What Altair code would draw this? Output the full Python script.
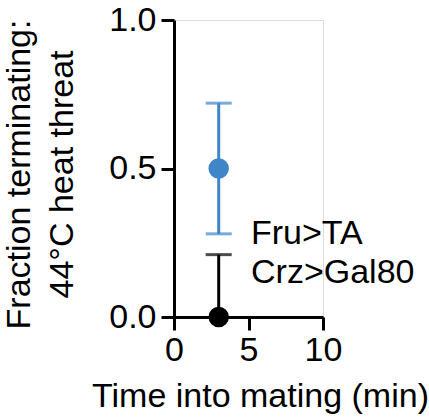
import altair as alt
import pandas as pd

groups = ["Fru>TA", "Crz>Gal80"]
time_min = [3, 3]
fraction = [0.5, 0.0]
ci_low = [0.28, 0.0]
ci_high = [0.72, 0.21]
colors = ["#3f86c8", "#000000"]

df = pd.DataFrame({"group": groups, "time": time_min, "frac": fraction,
                   "lo": ci_low, "hi": ci_high})

FONT = "Liberation Sans"
FS = 34

xscale = alt.Scale(domain=[0, 10], nice=False, zero=False)
yscale = alt.Scale(domain=[0, 1], nice=False)
cscale = alt.Scale(domain=groups, range=colors)

xax = alt.Axis(values=[0, 5, 10], title="Time into mating (min)", grid=False,
               labelFlush=False, labelOverlap=False,
               tickSize=13, tickWidth=3, domainWidth=3, domainColor="black",
               tickColor="black", labelFontSize=FS, labelFont=FONT, labelColor="black",
               labelPadding=3, titleFont=FONT, titleFontSize=FS, titleFontWeight="normal",
               titleColor="black", titleX=86, titleY=89, titleBaseline="alphabetic",
               titleAlign="center")
yax = alt.Axis(values=[0, 0.5, 1.0], format=".1f",
               title=["Fraction terminating:", "44°C heat threat"], grid=False,
               labelFlush=False, labelOverlap=False,
               tickSize=13, tickWidth=3, domainWidth=3, domainColor="black",
               tickColor="black", labelFontSize=FS, labelFont=FONT, labelColor="black",
               labelPadding=5, titleFont=FONT, titleFontSize=FS, titleFontWeight="normal",
               titleColor="black", titleLineHeight=43, titleX=-138, titleY=154,
               titleAngle=270, titleAlign="center", titleBaseline="bottom")

leg = alt.Legend(title=None, orient="none", legendX=43, legendY=197,
                 labelFont=FONT, labelFontSize=FS, labelColor="black", labelLimit=0,
                 symbolOpacity=0, symbolSize=1, symbolStrokeWidth=0, symbolType="circle",
                 labelOffset=0, rowPadding=5, padding=0)
color = alt.Color("group:N", scale=cscale, legend=leg, sort=groups)

base = alt.Chart(df)

rules = base.mark_rule(strokeWidth=3).encode(
    x=alt.X("time:Q", scale=xscale, axis=xax),
    y=alt.Y("lo:Q", scale=yscale, axis=yax),
    y2="hi:Q",
    color=color,
)
caps_hi = base.mark_tick(orient="horizontal", size=26, thickness=3).encode(
    x=alt.X("time:Q", scale=xscale), y=alt.Y("hi:Q", scale=yscale),
    color=color,
)
caps_lo = base.transform_filter("datum.lo > 0").mark_tick(
    orient="horizontal", size=26, thickness=3).encode(
    x=alt.X("time:Q", scale=xscale), y=alt.Y("lo:Q", scale=yscale),
    color=color,
)
points = base.mark_point(filled=True, size=420, opacity=1).encode(
    x=alt.X("time:Q", scale=xscale), y=alt.Y("frac:Q", scale=yscale),
    color=color,
)

chart = alt.layer(rules, caps_hi, caps_lo, points).properties(
    width=149, height=297,
    padding={"left": 174, "top": 20, "right": 106, "bottom": 101},
    autosize=alt.AutoSizeParams(type="none"),
).configure_view(stroke=None).configure(background="white")

chart.save("out.html", embed_options={"renderer": "svg", "actions": False})
